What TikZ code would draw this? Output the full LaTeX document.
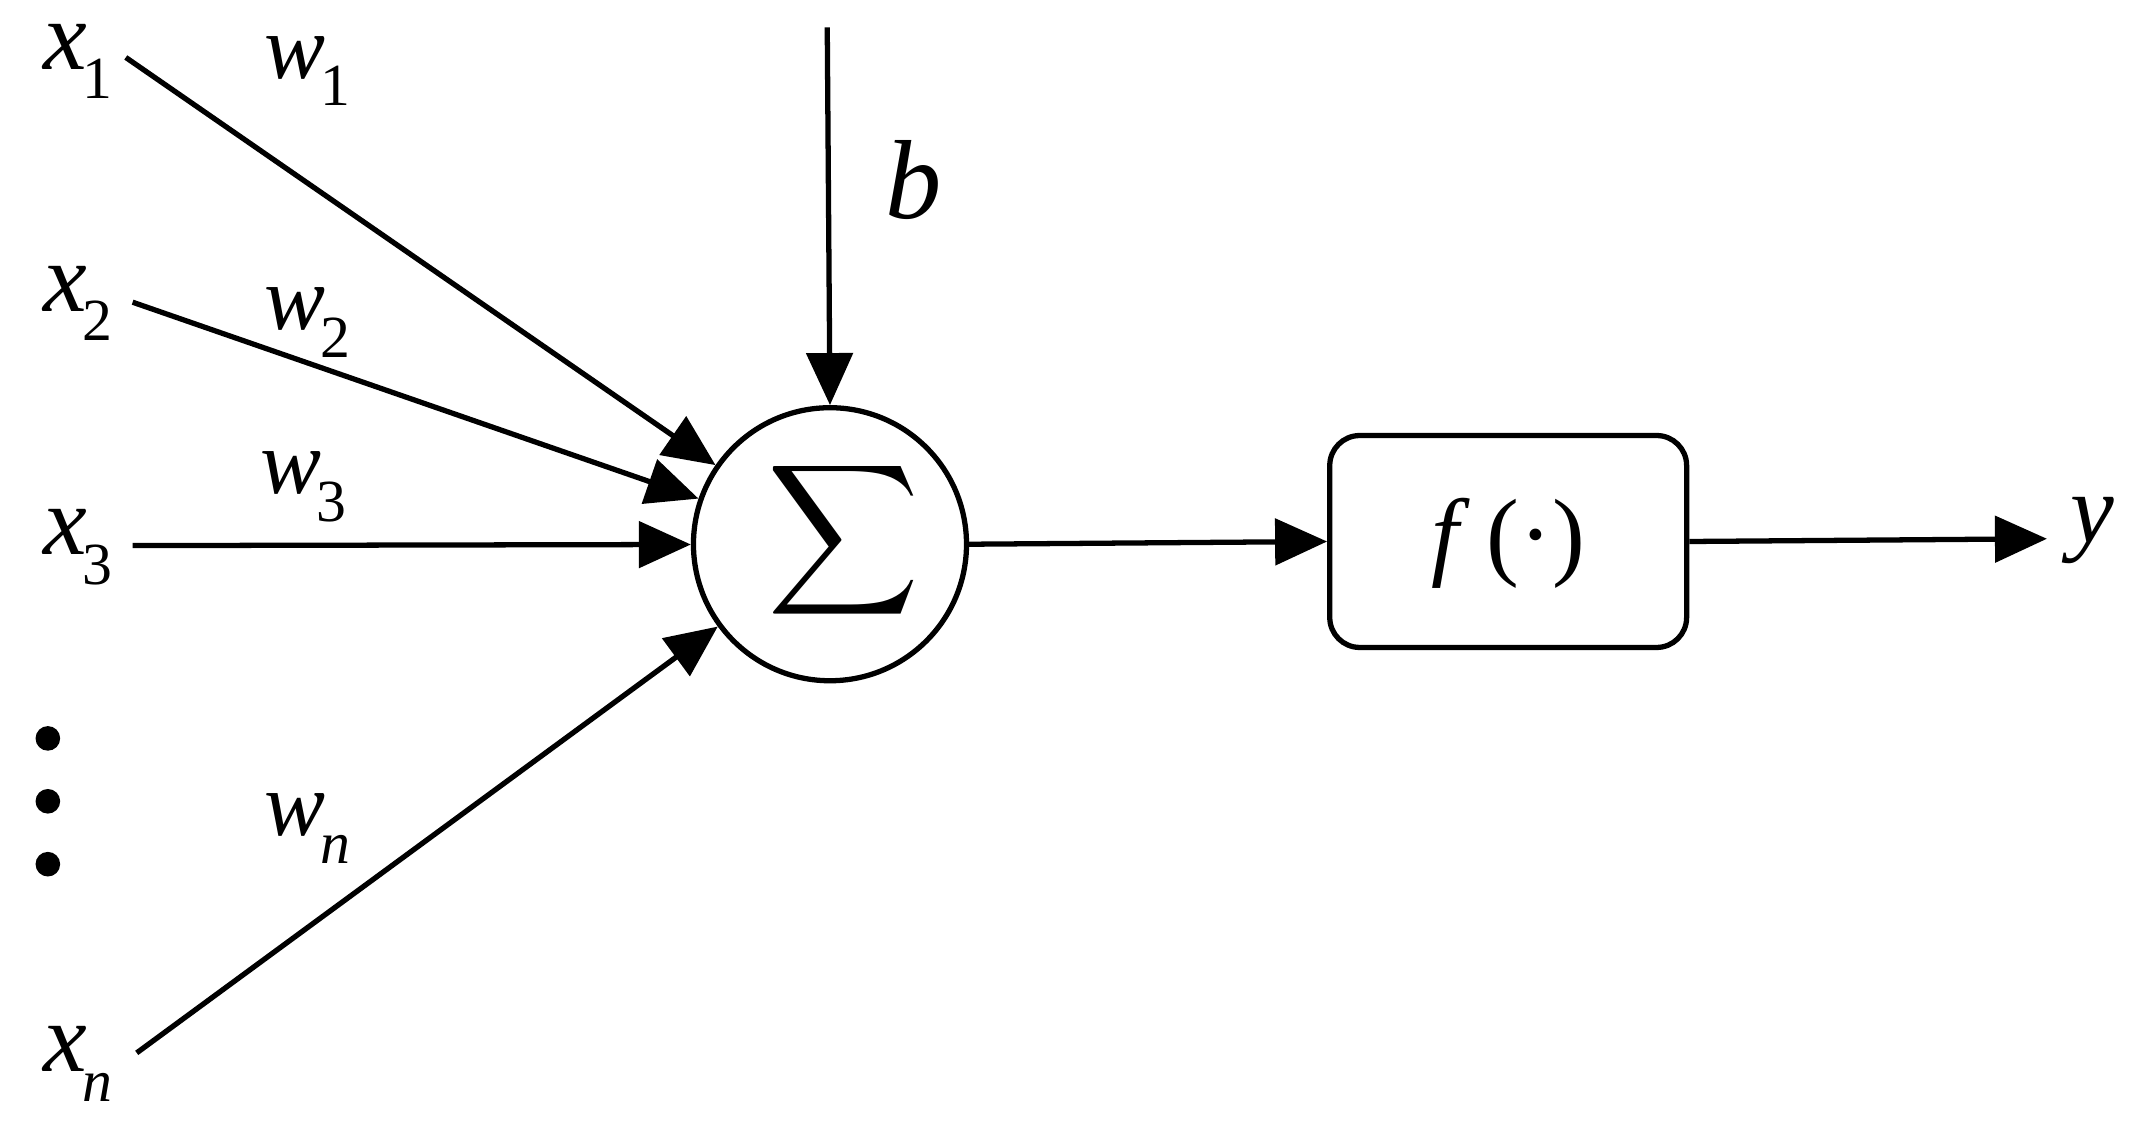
\documentclass[tikz,border=0pt]{standalone}
\usepackage{fontspec}
\setmainfont{Liberation Serif}
\usetikzlibrary{arrows.meta}
\newcommand{\lbl}[2]{\textit{#1}\kern-0.05em\raisebox{-0.3em}{\fontsize{17}{18}\selectfont #2}}
\begin{document}
\begin{tikzpicture}[x=0.013673cm,y=-0.013673cm,
  ln/.style={line width=1.5pt},
  ar/.style={ln,-{Triangle[length=0.52cm,width=0.46cm]}},
  lab/.style={font=\fontsize{28}{32}\selectfont},
  wl/.style={font=\fontsize{26}{30}\selectfont}]
\useasboundingbox (0,0) rectangle (1568,835);
\node[circle,draw,ln,minimum size=2.73cm,inner sep=0] (s) at (607,398) {};
\node at (617,395) {\scalebox{3}{$\displaystyle\sum$}};
\node[draw,ln,rounded corners=0.3cm,minimum width=261*0.013673cm,minimum height=155*0.013673cm] (f) at (1103,396) {};
\node[lab] at (1103,397) {\textit{f}\,(·)};
\node[lab] (x1) at (57,45) {\lbl{x}{1}};
\node[lab] (x2) at (57,222) {\lbl{x}{2}};
\node[lab] (x3) at (57,400) {\lbl{x}{3}};
\node[lab] (xn) at (57,778) {\lbl{x}{\itshape n}};
\node[lab] (y) at (1530,388) {\textit{y}};
\node[font=\fontsize{32}{34}\selectfont\itshape] (bl) at (668,132) {b};
\node[wl] at (225,52) {\lbl{w}{1}};
\node[wl] at (225,236) {\lbl{w}{2}};
\node[wl] at (222,356) {\lbl{w}{3}};
\node[wl] at (225,606) {\lbl{w}{\itshape n}};
\foreach \yy in {540,586,632} \fill (35,\yy) circle (9);
\coordinate (a1) at (92,42);
\coordinate (a2) at (97,221);
\coordinate (a3) at (97,399);
\coordinate (an) at (100,770);
\coordinate (bt) at (605,20);
\draw[ar] (a1) -- (s);
\draw[ar] (a2) -- (s);
\draw[ar] (a3) -- (s);
\draw[ar] (an) -- (s);
\draw[ar] (bt) -- (s.north);
\draw[ar] (s.east) -- (f.west);
\coordinate (ye) at (1497,394);
\draw[ar] (f.east) -- (ye);
\end{tikzpicture}
\end{document}
